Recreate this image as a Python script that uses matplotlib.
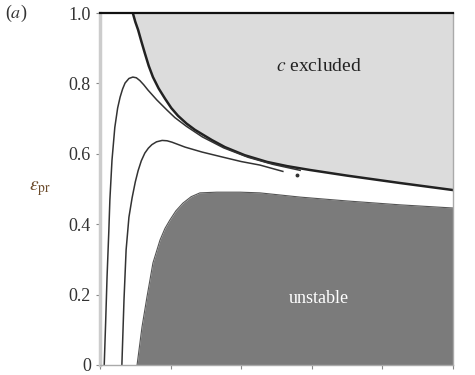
import matplotlib
matplotlib.use("Agg")
import matplotlib.pyplot as plt

# boundary of the "c excluded" region (upper right)
excl_x = [0.093, 0.100, 0.108, 0.117, 0.127, 0.138, 0.150, 0.166, 0.184, 0.202, 0.221, 0.245, 0.269, 0.317, 0.354, 0.410, 0.473, 0.530, 0.595, 0.700, 0.850, 1.0]
excl_y = [1.000, 0.975, 0.952, 0.920, 0.886, 0.850, 0.818, 0.786, 0.757, 0.730, 0.708, 0.686, 0.668, 0.639, 0.619, 0.596, 0.577, 0.565, 0.554, 0.538, 0.517, 0.497]

# boundary of the "unstable" region (lower right)
unst_x = [0.105, 0.119, 0.133, 0.150, 0.170, 0.184, 0.198, 0.215, 0.235, 0.258, 0.283, 0.331, 0.397, 0.453, 0.567, 0.700, 0.850, 1.0]
unst_y = [0.000, 0.108, 0.193, 0.290, 0.355, 0.388, 0.412, 0.438, 0.460, 0.478, 0.489, 0.491, 0.491, 0.489, 0.477, 0.466, 0.455, 0.446]

# curve with the higher maximum
c1_x = [0.012, 0.016, 0.020, 0.025, 0.028, 0.034, 0.042, 0.050, 0.057, 0.064, 0.071, 0.082, 0.093, 0.103, 0.113, 0.124, 0.136, 0.161, 0.190, 0.212, 0.245, 0.290, 0.350, 0.420, 0.490, 0.567]
c1_y = [0.000, 0.120, 0.250, 0.380, 0.469, 0.582, 0.675, 0.730, 0.761, 0.784, 0.801, 0.814, 0.818, 0.816, 0.808, 0.796, 0.781, 0.753, 0.724, 0.703, 0.678, 0.648, 0.617, 0.590, 0.570, 0.553]

# curve with the lower maximum
c2_x = [0.062, 0.068, 0.074, 0.082, 0.091, 0.100, 0.108, 0.117, 0.127, 0.137, 0.147, 0.160, 0.176, 0.190, 0.204, 0.241, 0.289, 0.346, 0.400, 0.453, 0.518]
c2_y = [0.000, 0.185, 0.327, 0.420, 0.475, 0.520, 0.552, 0.580, 0.602, 0.616, 0.626, 0.634, 0.638, 0.637, 0.633, 0.619, 0.605, 0.591, 0.578, 0.568, 0.550]

y_ticks = [0, 0.2, 0.4, 0.6, 0.8, 1.0]
y_tick_labels = ["0", "0.2", "0.4", "0.6", "0.8", "1.0"]
x_ticks = [0, 0.2, 0.4, 0.6, 0.8, 1.0]

plt.rcParams["font.family"] = ["Liberation Serif", "DejaVu Serif"]
plt.rcParams["mathtext.fontset"] = "stix"

fig = plt.figure(figsize=(4.75, 3.75), dpi=100)
ax = fig.add_axes([0.2105, 0.0267, 0.7432, 0.9386])

ax.fill_between(excl_x, excl_y, 1.0, color="#dcdcdc", lw=0)
ax.plot(excl_x, excl_y, color="#222222", lw=1.8)
ax.fill_between(unst_x, 0, unst_y, color="#7b7b7b", lw=0)
ax.plot(unst_x, unst_y, color="#555555", lw=0.8)
ax.plot(c1_x, c1_y, color="#333333", lw=1.1)
ax.plot(c2_x, c2_y, color="#333333", lw=1.1)
ax.plot([0.558], [0.540], "o", color="#333333", ms=1.8)

ax.text(0.62, 0.847, "$c$ excluded", ha="center", va="center", fontsize=14, color="#222222")
ax.text(0.62, 0.19, "unstable", ha="center", va="center", fontsize=13, color="white")

ax.set_xlim(0, 1)
ax.set_ylim(0, 1)
ax.set_xticks(x_ticks)
ax.set_xticklabels([])
ax.set_yticks(y_ticks)
ax.set_yticklabels(y_tick_labels, fontsize=13, color="#333333")
ax.tick_params(axis="both", length=3, width=0.8, color="#888888")

for side in ["left", "bottom", "right"]:
    ax.spines[side].set_color("#aaaaaa")
    ax.spines[side].set_linewidth(1.0)
ax.spines["left"].set_linewidth(2.5)
ax.spines["left"].set_color("#cccccc")
ax.spines["top"].set_color("#111111")
ax.spines["top"].set_linewidth(1.6)

ax.text(-0.17, 0.5, r"$\varepsilon_{\rm pr}$", transform=ax.transAxes,
        ha="center", va="center", fontsize=14, color="#6b4a2a")
fig.text(0.033, 0.965, "($a$)", ha="center", va="center", fontsize=13, color="#333333")

fig.savefig("out.png", dpi=100)
